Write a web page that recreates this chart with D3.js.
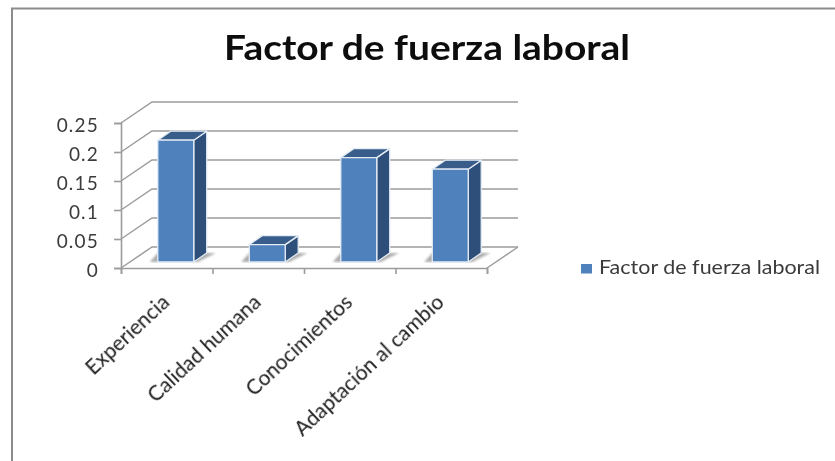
<!DOCTYPE html>
<html>
<head>
<meta charset="utf-8">
<script src="https://cdn.jsdelivr.net/npm/d3@7"></script>
<style>
html, body { margin: 0; padding: 0; background: #fff; }
svg { display: block; }
text { font-family: Lato, "Open Sans", sans-serif; fill: #1c1c1c; }
</style>
</head>
<body>
<div id="chart"></div>
<script>
var titleText = "Factor de fuerza laboral";
var seriesName = "Factor de fuerza laboral";
var categories = ["Experiencia", "Calidad humana", "Conocimientos", "Adaptación al cambio"];
var factorValues = [0.21, 0.03, 0.18, 0.16];
var yTicks = [0, 0.05, 0.1, 0.15, 0.2, 0.25];

var width = 835, height = 461;
var left = 121, right = 487, top0 = 123, bottom = 268;
var wallDx = 31, wallDy = -21;
var barDx = 9, barDy = -6;
var depthDx = 13, depthDy = -9;
var gridColor = "#9c9c9c";

var svg = d3.select("#chart").append("svg")
    .attr("width", width)
    .attr("height", height);

var defs = svg.append("defs");
defs.append("filter").attr("id", "soft")
    .append("feGaussianBlur").attr("stdDeviation", 0.4);
defs.append("filter").attr("id", "softText")
    .append("feGaussianBlur").attr("stdDeviation", 0.3);
defs.append("filter").attr("id", "shadow")
    .append("feGaussianBlur").attr("stdDeviation", 1);

// frame around the chart, only top and left are in the picture
svg.append("path")
    .attr("d", "M12,461V8.5H835")
    .attr("fill", "none")
    .attr("stroke", "#8c8c8c")
    .attr("stroke-width", 2);

// the original picture was stretched sideways, textLength gives the same width
svg.append("text")
    .attr("x", 224)
    .attr("y", 60)
    .attr("textLength", 406)
    .attr("lengthAdjust", "spacingAndGlyphs")
    .attr("filter", "url(#softText)")
    .style("font-size", "34px")
    .style("font-weight", "bold")
    .style("fill", "#0d0d0d")
    .text(titleText);

var x = d3.scaleBand()
    .domain(categories)
    .range([left, right])
    .paddingInner(0.607)
    .paddingOuter(0.3035);

var y = d3.scaleLinear()
    .domain([0, 0.25])
    .range([bottom, top0]);

// position along the axis counted in categories, used for the tick marks
var xEdge = d3.scaleLinear()
    .domain([0, categories.length])
    .range([left, right]);

var plot = svg.append("g").attr("filter", "url(#soft)");

// back wall grid and side wall lines
yTicks.forEach(function(t) {
    plot.append("path")
        .attr("d", d3.line()([
            [left, y(t)],
            [left + wallDx, y(t) + wallDy],
            [right + wallDx, y(t) + wallDy]
        ]))
        .attr("fill", "none")
        .attr("stroke", gridColor)
        .attr("stroke-width", 1.5);
});

// right edge of the floor
plot.append("path")
    .attr("d", d3.line()([
        [right, bottom],
        [right + wallDx, bottom + wallDy]
    ]))
    .attr("stroke", gridColor)
    .attr("stroke-width", 1.5);

var yAxis = svg.append("g")
    .attr("transform", "translate(" + left + ",0)")
    .call(d3.axisLeft(y).tickValues(yTicks).tickSize(7).tickFormat(function(d) { return d; }));

yAxis.selectAll("text")
    .attr("x", -22)
    .attr("dy", "0.47em")
    .attr("filter", "url(#softText)")
    .style("font-size", "19px")
    .style("letter-spacing", "1.2px")
    .style("fill", "#3a3a3a");

var xAxis = svg.append("g")
    .attr("transform", "translate(0," + bottom + ")")
    .call(d3.axisBottom(xEdge).tickValues(d3.range(categories.length + 1)).tickSize(6).tickFormat(""));

svg.selectAll(".domain, .tick line")
    .attr("stroke", gridColor)
    .attr("stroke-width", 1.6);

// floor shadows
plot.selectAll(".bar-shadow")
    .data(factorValues)
    .enter()
    .append("path")
    .attr("class", "bar-shadow")
    .attr("d", function(d, i) {
        var x0 = x(categories[i]) + barDx, x1 = x0 + x.bandwidth(), b = y(0) + barDy;
        return d3.line()([
            [x0 - 8, b], [x1 + 4, b],
            [x1 + depthDx + 9, b + depthDy], [x0, b + depthDy]
        ]) + "Z";
    })
    .attr("fill", "#8a8a8a")
    .attr("opacity", 0.7)
    .attr("filter", "url(#shadow)");

var bars = plot.selectAll(".bar")
    .data(factorValues)
    .enter()
    .append("g")
    .attr("class", "bar")
    .attr("transform", "translate(" + barDx + "," + barDy + ")")
    .attr("stroke", "#e4ecf5")
    .attr("stroke-width", 1.3)
    .attr("stroke-linejoin", "round");

// side face
bars.append("path")
    .attr("d", function(d, i) {
        var x1 = x(categories[i]) + x.bandwidth();
        return d3.line()([
            [x1, y(d)], [x1 + depthDx, y(d) + depthDy],
            [x1 + depthDx, y(0) + depthDy], [x1, y(0)]
        ]) + "Z";
    })
    .attr("fill", "#2f5079");

// top face
bars.append("path")
    .attr("d", function(d, i) {
        var x0 = x(categories[i]), x1 = x0 + x.bandwidth();
        return d3.line()([
            [x0, y(d)], [x0 + depthDx, y(d) + depthDy],
            [x1 + depthDx, y(d) + depthDy], [x1, y(d)]
        ]) + "Z";
    })
    .attr("fill", "#385d8a");

// front face
bars.append("rect")
    .attr("x", function(d, i) { return x(categories[i]); })
    .attr("y", function(d) { return y(d); })
    .attr("width", x.bandwidth())
    .attr("height", function(d) { return y(0) - y(d); })
    .attr("fill", "#4f81bd");

// category labels
svg.selectAll(".cat-label")
    .data(categories)
    .enter()
    .append("text")
    .attr("class", "cat-label")
    .attr("text-anchor", "end")
    .attr("filter", "url(#softText)")
    .attr("transform", function(d) {
        return "translate(" + (x(d) + x.bandwidth() / 2 + 4) + "," + (bottom + 36) + ") rotate(-43)";
    })
    .style("font-size", "20.8px")
    .text(function(d) { return d; });

// legend
var legend = svg.append("g").attr("transform", "translate(581,264)");
legend.append("rect")
    .attr("width", 11)
    .attr("height", 9.5)
    .attr("fill", "#4f81bd");
legend.append("text")
    .attr("x", 18)
    .attr("y", 10)
    .attr("textLength", 221)
    .attr("lengthAdjust", "spacingAndGlyphs")
    .attr("filter", "url(#softText)")
    .style("font-size", "19px")
    .style("fill", "#3a3a3a")
    .text(seriesName);
</script>
</body>
</html>
